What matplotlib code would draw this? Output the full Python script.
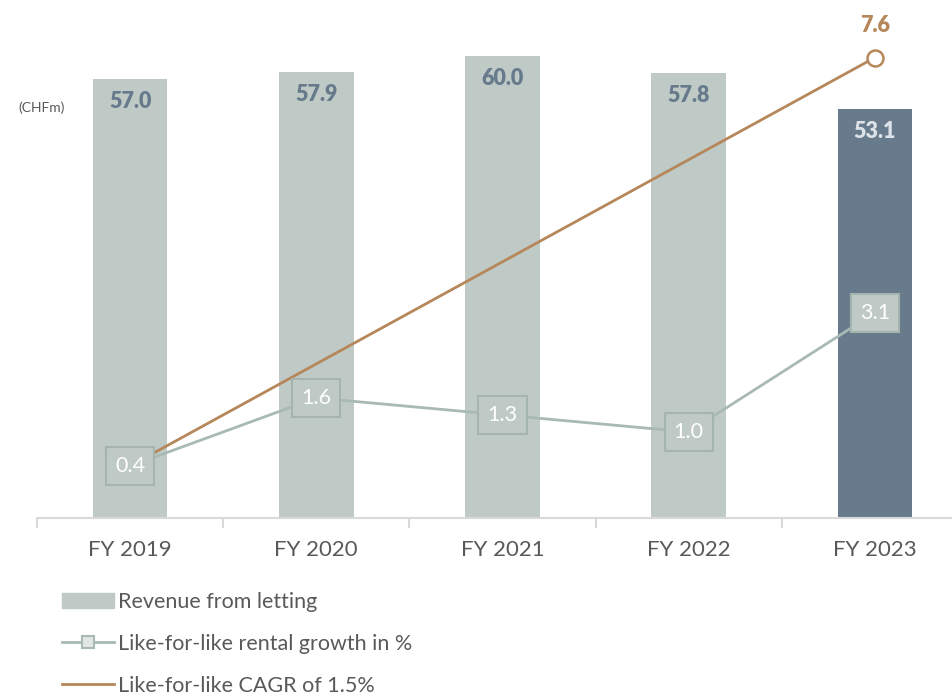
import matplotlib.pyplot as plt
from matplotlib.patches import Patch
from matplotlib.lines import Line2D

plt.rcParams['font.family'] = ['Lato', 'DejaVu Sans']

years = ['FY 2019', 'FY 2020', 'FY 2021', 'FY 2022', 'FY 2023']
revenue = [57.0, 57.9, 60.0, 57.8, 53.1]
lfl_growth = [0.4, 1.6, 1.3, 1.0, 3.1]
cagr_x = [0, 4]
cagr_y = [0.4, 7.6]

bar_grey = '#BFCAC6'
bar_dark = '#677B8C'
label_blue = '#667A8C'
growth_col = '#A9B9B3'
brown = '#B5875A'
text_grey = '#595959'

fig = plt.figure(figsize=(9.53, 6.98), dpi=100)
ax = fig.add_axes([37 / 953, 180 / 698, 916 / 953, 508 / 698])
x = list(range(len(years)))

colors = [bar_grey] * 4 + [bar_dark]
ax.bar(x, revenue, width=0.4, color=colors, zorder=1)
for i, v in enumerate(revenue):
    c = '#DDE3E8' if i == 4 else label_blue
    ax.text(i, v - 1.6, f'{v:.1f}', ha='center', va='top', fontsize=15.5,
            fontweight='heavy', color=c)

ax.set_xlim(-0.5, 4.42)
ax.set_ylim(0, 65.97)
ax.set_yticks([])
for s in ['top', 'right', 'left']:
    ax.spines[s].set_visible(False)
ax.spines['bottom'].set_color('#D9D9D9')
ax.spines['bottom'].set_linewidth(1.5)
ax.set_xticks(x)
ax.set_xticklabels(years, fontsize=16, color=text_grey)
ax.tick_params(axis='x', which='major', length=0, pad=16)
ax.set_xticks([i + 0.5 for i in range(-1, 4)], minor=True)
ax.tick_params(axis='x', which='minor', length=7, width=1.5, color='#D9D9D9')

ax2 = ax.twinx()
ax2.set_ylim(-0.517, 8.44)
ax2.set_yticks([])
for s in ax2.spines.values():
    s.set_visible(False)

ax2.plot(cagr_x, cagr_y, color=brown, lw=2, zorder=2)
ax2.plot(cagr_x[-1], cagr_y[-1], 'o', ms=11.5, mfc='white', mec=brown, mew=1.8,
         zorder=3)
ax2.text(cagr_x[-1], cagr_y[-1] + 0.38, f'{cagr_y[-1]:.1f}', ha='center',
         va='bottom', fontsize=15.5, fontweight='heavy', color=brown)

ax2.plot(x, lfl_growth, color=growth_col, lw=2, zorder=2)
for i, v in enumerate(lfl_growth):
    ax2.text(i, v, f'{v:.1f}', ha='center', va='center', fontsize=15.5,
             color='white', zorder=4,
             bbox=dict(boxstyle='square,pad=0.42', fc=bar_grey,
                       ec='#A5B4AE', lw=1.5))

fig.text(18 / 953, 1 - 108 / 698, '(CHFm)', fontsize=10, color=text_grey,
         va='center')

handles = [
    Patch(color=bar_grey),
    Line2D([0], [0], color=growth_col, lw=2, marker='s', ms=9,
           mfc='#E0E6E3', mec=growth_col, mew=1.5),
    Line2D([0], [0], color=brown, lw=2),
]
labels = ['Revenue from letting', 'Like-for-like rental growth in %',
          'Like-for-like CAGR of 1.5%']
leg = fig.legend(handles, labels, loc='upper left',
                 bbox_to_anchor=(47 / 953, 1 - 577 / 698), frameon=False,
                 fontsize=15.5, labelspacing=1.02, handlelength=2.4,
                 handletextpad=0.2, borderaxespad=0.3, labelcolor=text_grey)

fig.savefig('out.png', dpi=100)
